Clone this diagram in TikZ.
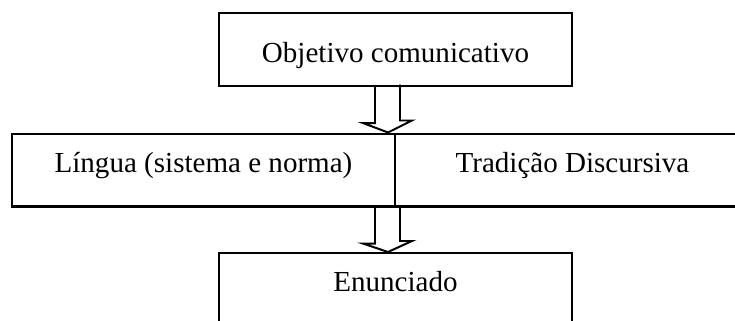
\documentclass[tikz,border=0pt]{standalone}
\usepackage{fontspec}
\setmainfont{Liberation Serif}

\begin{document}
\begin{tikzpicture}[
    x=0.015cm, y=-0.015cm,
    font=\fontsize{12.4}{14}\selectfont,
    box/.style={draw, line width=1pt, inner xsep=0pt, inner ysep=0pt,
                minimum height=1.09cm, align=center,
                text height=0.36cm, text depth=0.3cm},
    blk/.style={draw, line width=0.85pt, line join=miter}
]
    \path[use as bounding box] (0,0) rectangle (735,320);

    \node[box, minimum width=5.295cm, text height=0.675cm] (obj) at (395.5,49.5)
        {Objetivo comunicativo};
    \node[box, minimum width=5.745cm] (lng) at (203.5,170)
        {Língua (sistema e norma)};
    \node[box, minimum width=5.325cm] (trad) at (572.5,170)
        {Tradição Discursiva};
    \node[box, minimum width=5.295cm] (enun) at (395.5,289.5)
        {Enunciado};

    \coordinate (ax) at (388,0);

    \draw[blk] (obj.south -| ax) ++(-13,0) -- ++(0,36) -- ++(-12,0)
        -- (lng.north -| ax) -- ++(24,-12) -- ++(-12,0) -- ++(0,-36);
    \draw[blk] (lng.south -| ax) ++(-13,0) -- ++(0,36) -- ++(-12,0)
        -- (enun.north -| ax) -- ++(24,-11) -- ++(-12,0) -- ++(0,-36);
\end{tikzpicture}
\end{document}
